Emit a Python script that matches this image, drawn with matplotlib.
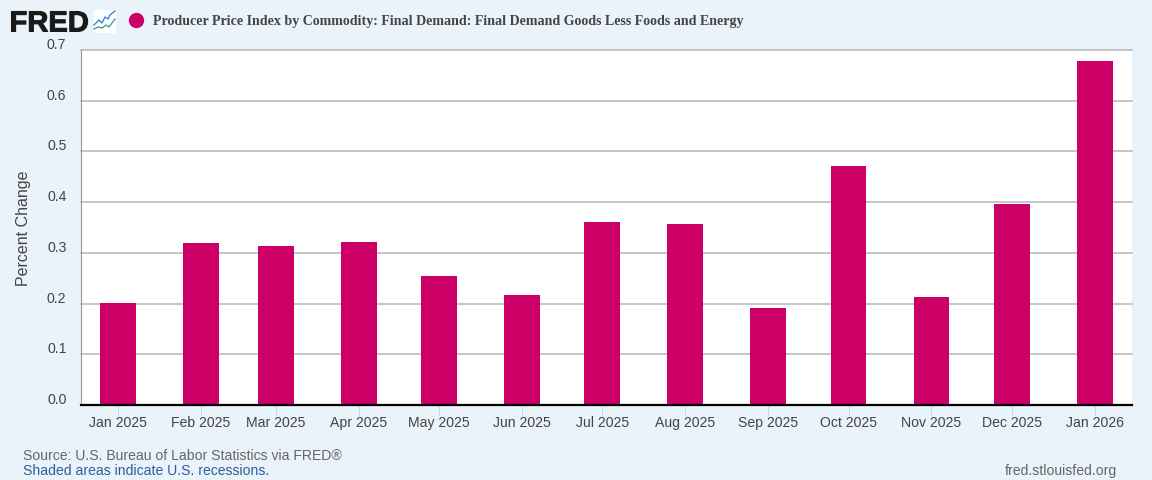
import matplotlib
matplotlib.use('Agg')
from datetime import date
from matplotlib import pyplot as plt
from matplotlib import dates as mdates
from matplotlib import patheffects
from matplotlib.transforms import ScaledTranslation

months = ['2025-01', '2025-02', '2025-03', '2025-04', '2025-05', '2025-06', '2025-07',
          '2025-08', '2025-09', '2025-10', '2025-11', '2025-12', '2026-01']
month_labels = ['Jan 2025', 'Feb 2025', 'Mar 2025', 'Apr 2025', 'May 2025', 'Jun 2025', 'Jul 2025',
                'Aug 2025', 'Sep 2025', 'Oct 2025', 'Nov 2025', 'Dec 2025', 'Jan 2026']
pct_change = [0.201, 0.320, 0.314, 0.322, 0.254, 0.217, 0.361,
              0.357, 0.191, 0.471, 0.213, 0.396, 0.678]
y_ticks = [0.0, 0.1, 0.2, 0.3, 0.4, 0.5, 0.6, 0.7]

title = 'Producer Price Index by Commodity: Final Demand: Final Demand Goods Less Foods and Energy'
BAR_COLOR = '#cc0066'
BG_COLOR = '#eaf2fa'

W, H = 1152, 480
plt.rcParams['font.family'] = ['Liberation Sans', 'DejaVu Sans']

fig = plt.figure(figsize=(W / 100, H / 100), dpi=100, facecolor=BG_COLOR)
ax = fig.add_axes([81 / W, 1 - 405 / H, (1132 - 81) / W, (405 - 50) / H])

# bars sit on a real date axis like the original
x = [mdates.date2num(date(int(m[:4]), int(m[5:]), 1)) for m in months]
ax.bar(x, pct_change, width=13.4, color=BAR_COLOR, zorder=3)

ax.set_xlim(x[0] - 13.7, x[-1] + 13.9)
ax.set_ylim(0, 0.7)
ax.set_facecolor('white')

ax.set_yticks(y_ticks)
ax.set_yticklabels(['%.1f' % v for v in y_ticks])
ax.grid(axis='y', color='#c0c0c0', linewidth=1.3, zorder=1, clip_on=False)
ax.set_axisbelow(True)
ax.tick_params(axis='y', length=0, pad=10.5, labelsize=10.1, labelcolor='#444444')
for lab in ax.get_yticklabels():
    lab.set_transform(lab.get_transform() + ScaledTranslation(0, 6.5 / 100, fig.dpi_scale_trans))

ax.set_xticks(x)
ax.set_xticklabels(month_labels)
ax.tick_params(axis='x', length=7, width=0.7, color='#ccd6eb', pad=1, labelsize=10.1, labelcolor='#444444')

for side in ['top', 'right']:
    ax.spines[side].set_visible(False)
ax.spines['left'].set_color('#999999')
ax.spines['left'].set_linewidth(0.8)
ax.spines['bottom'].set_color('black')
ax.spines['bottom'].set_linewidth(1.6)
ax.spines['bottom'].set_zorder(5)

# overlay in pixel coordinates for the header and footer
over = fig.add_axes([0, 0, 1, 1], facecolor='none')
over.set_xlim(0, W)
over.set_ylim(H, 0)
over.axis('off')

over.text(24, 228, 'Percent Change', rotation=90, ha='center', va='center', fontsize=11.5, color='#444444')

logo = over.text(9.5, 31.5, 'FRED', fontsize=21, fontweight='bold', color='#1a1a1a', va='baseline', ha='left')
logo.set_path_effects([patheffects.withStroke(linewidth=0.7, foreground='#1a1a1a')])
over.fill_between([94, 115], 10, 32, color='white', zorder=1)
over.plot([94, 99, 102, 105, 108, 110, 115], [25, 20, 23, 17, 19, 15, 11], color='#1a7fe0', lw=0.9, zorder=2)
over.plot([94, 98, 102, 106, 109, 112, 115], [29, 27, 28, 25, 27, 23, 19], color='#2a9d8f', lw=0.9, zorder=2)
over.plot([135.5], [20], 'o', color=BAR_COLOR, markersize=10)
over.text(153, 21, title, family=['Liberation Serif'], fontweight='bold', fontsize=10.09,
          color='#444444', va='center', ha='left')

over.text(23, 456, 'Source: U.S. Bureau of Labor Statistics via FRED\u00ae', fontsize=10.1,
          color='#666666', va='center', ha='left')
over.text(23, 471, 'Shaded areas indicate U.S. recessions.', fontsize=10.1,
          color='#2f5d9e', va='center', ha='left')
over.text(1117, 471, 'fred.stlouisfed.org', fontsize=10.1, color='#666666', va='center', ha='right')

fig.savefig('out.png', dpi=100, facecolor=BG_COLOR)
